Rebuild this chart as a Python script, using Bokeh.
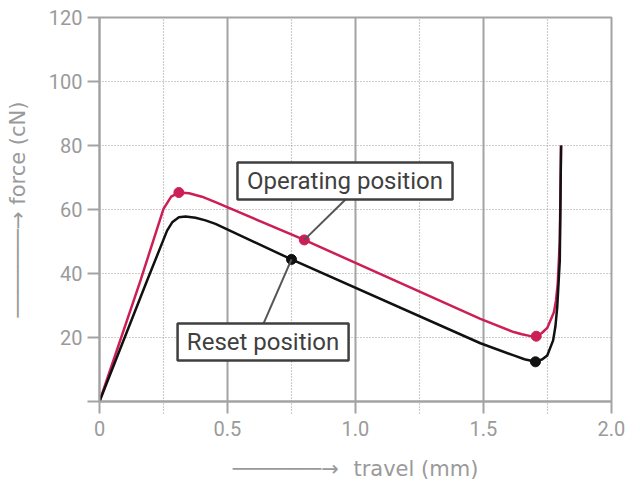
from bokeh.plotting import figure
from bokeh.models import FixedTicker, CustomJSTickFormatter, Range1d
from bokeh.embed import file_html
from bokeh.resources import INLINE
from bokeh.core.properties import value

# ---- data ----
op_travel = [0, 0.16, 0.25, 0.28, 0.31, 0.35, 0.40, 0.453, 0.8, 1.488, 1.618, 1.65,
             1.68, 1.706, 1.728, 1.749, 1.775, 1.783, 1.79, 1.798, 1.803]
op_force = [0, 37.8, 60.2, 64.0, 65.3, 65.1, 64.0, 62.3, 50.5, 25.8, 21.7, 21.0,
            20.5, 20.4, 21.4, 23.0, 27.9, 31.5, 36.8, 50.3, 80]
rs_travel = [0, 0.186, 0.264, 0.284, 0.31, 0.336, 0.375, 0.414, 0.453, 0.75, 1.488,
             1.618, 1.66, 1.703, 1.73, 1.749, 1.772, 1.781, 1.788, 1.798, 1.803]
rs_force = [0, 37.8, 53.4, 56.0, 57.6, 57.8, 57.4, 56.6, 55.5, 44.4, 18.2,
            14.4, 13.2, 12.4, 13.2, 14.4, 19.1, 23.5, 29.5, 44.0, 80]
op_pts_travel = [0.31, 0.8, 1.706]
op_pts_force = [65.3, 50.5, 20.4]
rs_pts_travel = [0.75, 1.703]
rs_pts_force = [44.4, 12.4]
x_ticks = [0, 0.5, 1.0, 1.5, 2.0]
x_minor = [0.25, 0.75, 1.25, 1.75]
y_ticks = [0, 20, 40, 60, 80, 100, 120]
x_title = "travel (mm)"
y_title = "force (cN)"
op_text = "Operating position"
rs_text = "Reset position"

PINK = "#cc1f55"
BLACK = "#111111"
GRAY = "#a3a3a3"
DOT = "#9c9c9c"
DARK = "#3f3f3f"
LABEL = "#9a9a9a"
FONT = "Roboto"
TFONT = "'DejaVu Sans'"

p = figure(width=640, height=483, output_backend="svg", toolbar_location=None,
           x_range=Range1d(0, 2.0), y_range=Range1d(0, 120),
           min_border_left=99, min_border_right=29, min_border_top=17, min_border_bottom=82)
p.background_fill_color = "white"
p.border_fill_color = "white"
p.outline_line_color = GRAY
p.outline_line_width = 2

for ax in (p.xaxis[0], p.yaxis[0]):
    ax.axis_line_color = GRAY
    ax.axis_line_width = 2
    ax.major_tick_line_color = GRAY
    ax.major_tick_line_width = 2
    ax.major_tick_out = 12
    ax.major_tick_in = 0
    ax.major_label_text_color = LABEL
    ax.major_label_text_font = FONT
    ax.major_label_text_font_size = "20px"
    ax.axis_label_text_font = TFONT
    ax.axis_label_text_font_size = "21px"
    ax.axis_label_text_font_style = "normal"
    ax.axis_label_text_color = LABEL

arrow = "\u2500" * 7 + "\u2192"
p.xaxis.axis_label = arrow + "\u2002\u2009" + x_title
p.yaxis.axis_label = arrow + " " + y_title
p.xaxis.axis_label_standoff = 18
p.yaxis.axis_label_standoff = 16

p.xaxis.ticker = FixedTicker(ticks=x_ticks, minor_ticks=x_minor)
p.yaxis.ticker = FixedTicker(ticks=y_ticks, minor_ticks=[])
p.xaxis.minor_tick_out = 12
p.xaxis.minor_tick_in = 0
p.xaxis.minor_tick_line_color = DOT
p.xaxis.minor_tick_line_dash = "1 2"
p.xaxis.minor_tick_line_width = 1.2
p.yaxis.minor_tick_line_color = None
p.xaxis.major_label_standoff = 7
p.yaxis.major_label_standoff = 5
p.xaxis.formatter = CustomJSTickFormatter(code="return tick == 0 ? '0' : tick.toFixed(1);")
p.yaxis.formatter = CustomJSTickFormatter(code="return tick == 0 ? '' : tick.toFixed(0);")

p.xgrid.grid_line_color = GRAY
p.xgrid.grid_line_width = 2
p.xgrid.minor_grid_line_color = DOT
p.xgrid.minor_grid_line_dash = "1 2"
p.xgrid.minor_grid_line_width = 1.2
p.ygrid.grid_line_color = DOT
p.ygrid.grid_line_dash = "1 2"
p.ygrid.grid_line_width = 1.2

# curves
p.line(op_travel, op_force, line_color=PINK, line_width=2.5, line_join="round")
p.line(rs_travel, rs_force, line_color=BLACK, line_width=2.5, line_join="round")
p.scatter(op_pts_travel, op_pts_force, size=10, fill_color=PINK, line_color=PINK)
p.scatter(rs_pts_travel, rs_pts_force, size=10, fill_color=BLACK, line_color=BLACK)

# leader lines
p.line([0.961, op_pts_travel[1]], [63.1, op_pts_force[1]], line_color="#555555", line_width=2)
p.line([0.641, rs_pts_travel[0]], [24.4, rs_pts_force[0]], line_color="#555555", line_width=2)

# label boxes
p.quad(left=[0.539], right=[1.379], bottom=[63.1], top=[74.7], fill_color="white",
       line_color=DARK, line_width=2.5)
p.quad(left=[0.305], right=[0.973], bottom=[12.8], top=[24.4], fill_color="white",
       line_color=DARK, line_width=2.5)
p.text(x=[0.959], y=[68.9], text=[op_text], text_align="center",
       text_baseline="middle", text_font=value(FONT), text_font_size="24px",
       text_color=DARK)
p.text(x=[0.639], y=[18.6], text=[rs_text], text_align="center",
       text_baseline="middle", text_font=value(FONT), text_font_size="24px",
       text_color=DARK)

open("out.html", "w").write(file_html(p, INLINE))
